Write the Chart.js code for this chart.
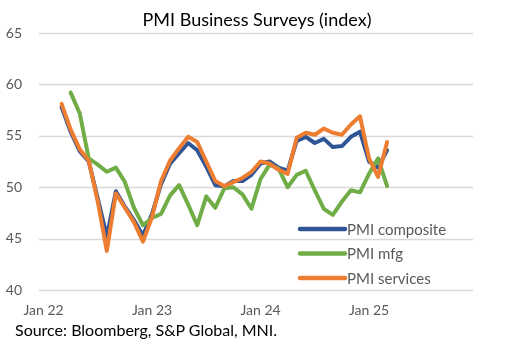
<!DOCTYPE html>
<html>
<head>
<meta charset="utf-8">
<script src="https://cdn.jsdelivr.net/npm/chart.js@4.4.0/dist/chart.umd.min.js"></script>
<style>
  body { margin: 0; background: #fff; }
  #wrap { position: relative; width: 508px; height: 353px; }
  #title { position: absolute; left: 0; width: 514px; top: 8px; text-align: center; font: 18px Lato, sans-serif; color: #000; }
  #source { position: absolute; left: 15px; top: 320px; font: 16px Lato, sans-serif; color: #000; }
</style>
</head>
<body>
<div id="wrap">
  <canvas id="myChart" width="508" height="353"></canvas>
  <div id="title">PMI Business Surveys (index)</div>
  <div id="source">Source: Bloomberg, S&amp;P Global, MNI.</div>
</div>
<script>
// months Jan 22 .. Dec 25, data runs to Mar 25
const years = ['22', '23', '24', '25']
const monthNames = ['Jan', 'Feb', 'Mar', 'Apr', 'May', 'Jun', 'Jul', 'Aug', 'Sep', 'Oct', 'Nov', 'Dec']
const months = []
years.forEach(y => monthNames.forEach(m => months.push(m + ' ' + y)))

const composite = [null, null, 57.8, 55.4, 53.5, 52.5, 48.9, 45.2, 49.6, 48.1, 46.8, 45.3,
  47.4, 50.3, 52.3, 53.3, 54.3, 53.6, 52.0, 50.2, 50.1, 50.6, 50.6, 51.2,
  52.3, 52.5, 51.9, 51.6, 54.5, 54.9, 54.3, 54.7, 53.9, 54.0, 54.9, 55.4,
  52.5, 51.9, 53.6]
const mfg = [null, null, null, 59.2, 57.2, 52.8, 52.2, 51.5, 51.9, 50.5, 48.0, 46.3,
  47.0, 47.4, 49.2, 50.2, 48.3, 46.3, 49.1, 48.0, 49.9, 50.0, 49.3, 47.9,
  50.8, 52.2, 51.8, 50.0, 51.2, 51.6, 49.7, 47.9, 47.3, 48.6, 49.7, 49.5,
  51.3, 52.8, 50.1]
const services = [null, null, 58.1, 55.6, 53.7, 52.6, 48.6, 43.8, 49.4, 48.0, 46.6, 44.7,
  47.1, 50.6, 52.6, 53.8, 54.9, 54.4, 52.5, 50.6, 50.1, 50.5, 50.9, 51.5,
  52.5, 52.3, 51.7, 51.3, 54.8, 55.3, 55.1, 55.7, 55.3, 55.1, 56.1, 56.9,
  52.8, 51.0, 54.4]

const seriesNames = ['PMI composite', 'PMI mfg', 'PMI services']
const seriesColors = ['#2F5597', '#70AD47', '#ED7D31']

function lineSet(i, values, order) {
    return {
        label: seriesNames[i],
        data: values,
        borderColor: seriesColors[i],
        backgroundColor: seriesColors[i],
        borderWidth: 4,
        pointRadius: 0,
        borderCapStyle: 'round',
        borderJoinStyle: 'round',
        tension: 0,
        order: order
    }
}

// horizontal gridlines from the y scale ticks (built-in one lost the top line)
const hGrid = {
    id: 'hGrid',
    beforeDatasetsDraw(chart) {
        const ctx = chart.ctx
        const y = chart.scales.y
        const area = chart.chartArea
        ctx.save()
        ctx.strokeStyle = '#D9D9D9'
        ctx.lineWidth = 1.3
        y.ticks.forEach(t => {
            const py = Math.round(y.getPixelForValue(t.value)) + 0.5
            ctx.beginPath()
            ctx.moveTo(area.left, py)
            ctx.lineTo(area.right, py)
            ctx.stroke()
        })
        ctx.restore()
    }
}

// legend drawn inside the plot, lower right
const insideLegend = {
    id: 'insideLegend',
    afterDraw(chart) {
        const ctx = chart.ctx
        const x0 = 300, x1 = 345
        ctx.save()
        ctx.font = '15px Lato, sans-serif'
        ctx.textBaseline = 'middle'
        seriesNames.forEach((name, i) => {
            const y = 229 + i * 24.5
            ctx.strokeStyle = seriesColors[i]
            ctx.lineWidth = 4.5
            ctx.lineCap = 'round'
            ctx.beginPath()
            ctx.moveTo(x0, y)
            ctx.lineTo(x1, y)
            ctx.stroke()
            ctx.fillStyle = '#595959'
            ctx.fillText(name, x1 + 2, y + 1)
        })
        ctx.restore()
    }
}

const ctx = document.getElementById('myChart')
const myChart = new Chart(ctx, {
    type: 'line',
    data: {
        labels: months,
        datasets: [
            lineSet(0, composite, 3),
            lineSet(1, mfg, 2),
            lineSet(2, services, 1)
        ]
    },
    options: {
        responsive: false,
        animation: false,
        spanGaps: false,
        layout: { padding: { left: 0, right: 35, bottom: 33, top: 33 } },
        plugins: {
            legend: { display: false },
            tooltip: { enabled: false }
        },
        scales: {
            x: {
                offset: true,
                grid: { display: false, drawTicks: false },
                border: { display: false },
                afterFit(scale) { scale.height = 30 },
                ticks: {
                    autoSkip: false,
                    maxRotation: 0,
                    padding: 12,
                    color: '#595959',
                    font: { family: 'Lato', size: 14 },
                    callback: function (val, idx) {
                        const lab = months[idx]
                        return lab.startsWith('Jan') ? lab : ''
                    }
                }
            },
            y: {
                min: 40,
                max: 65,
                afterFit(scale) { scale.width = 39 },
                grid: { display: false, drawTicks: false },
                border: { display: false },
                ticks: {
                    stepSize: 5,
                    padding: 17,
                    color: '#595959',
                    font: { family: 'Lato', size: 14 }
                }
            }
        }
    },
    plugins: [hGrid, insideLegend]
})
</script>
</body>
</html>
